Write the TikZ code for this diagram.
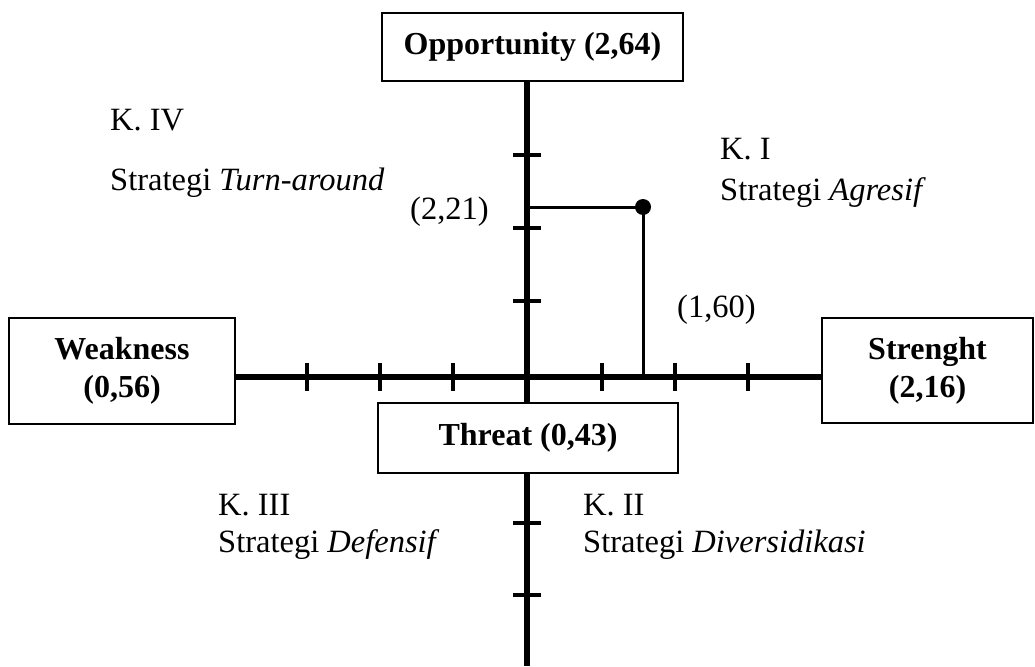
\documentclass[tikz,border=0pt]{standalone}
\usepackage{fontspec}
\setmainfont{Liberation Serif}
\begin{document}
\begin{tikzpicture}[x=1pt,y=-1pt,
  box/.style={draw,line width=2pt,inner sep=0pt,align=center,font=\fontsize{32}{38}\selectfont\bfseries},
  lbl/.style={anchor=base west,inner sep=0pt,font=\fontsize{32.5}{38}\selectfont},
  axis/.style={line width=5.5pt},
  tick/.style={line width=4pt},
  guide/.style={line width=3pt}]
\useasboundingbox (0,0) rectangle (1035,666);
% boxes
\node[box,minimum width=301pt,minimum height=68pt] (opp) at (532.5,47) {Opportunity (2,64)};
\node[box,minimum width=300pt,minimum height=70pt] (thr) at (528,438) {Threat (0,43)};
\node[box,minimum width=226pt,minimum height=106pt] (wk) at (122,371) {Weakness\\(0,56)};
\node[box,minimum width=211pt,minimum height=105pt] (st) at (927.5,370.5) {Strenght\\(2,16)};
% origin, point, bottom end
\coordinate (O) at (527,377);
\coordinate (P) at (643,207);
\coordinate (bot) at (527,666);
% axes
\draw[axis] (O -| wk.east) -- (O -| st.west);
\draw[axis] (O |- opp.south) -- (O |- thr.north);
\draw[axis] (O |- thr.south) -- (bot);
% ticks on vertical axis
\foreach \yy in {155,228,301,523,595}
  \draw[tick] (513,\yy) -- (541,\yy);
% ticks on horizontal axis
\foreach \xx in {307,380,453,602,675,748}
  \draw[tick] (\xx,363) -- (\xx,391);
% point lines
\draw[guide] (O |- P) -- (P) -- (P |- O);
\fill (P) circle (8pt);
% labels
\node[lbl] (k4) at (110,130) {K. IV};
\node[lbl] (s4) at (110,190) {Strategi \textit{Turn-around}};
\node[lbl] (y221) at (410,219) {(2,21)};
\node[lbl] (k1) at (720,159) {K. I};
\node[lbl] (s1) at (720,200) {Strategi \textit{Agresif}};
\node[lbl] (x160) at (677,317) {(1,60)};
\node[lbl] (k3) at (218,515) {K. III};
\node[lbl] (s3) at (218,552) {Strategi \textit{Defensif}};
\node[lbl] (k2) at (583,515) {K. II};
\node[lbl] (s2) at (583,552) {Strategi \textit{Diversidikasi}};
\end{tikzpicture}
\end{document}
